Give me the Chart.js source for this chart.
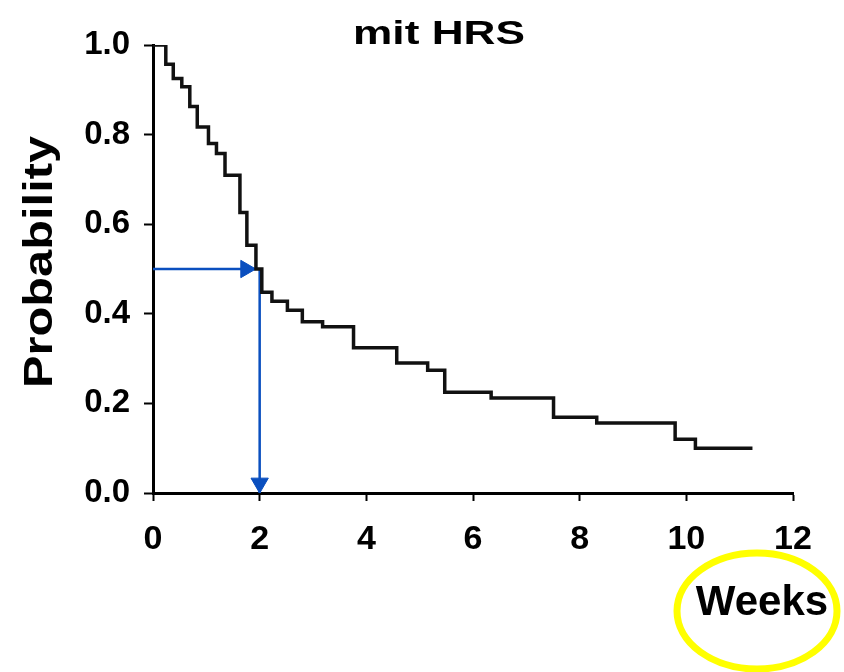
<!DOCTYPE html>
<html>
<head>
<meta charset="utf-8">
<script src="https://cdn.jsdelivr.net/npm/chart.js@4.4.1/dist/chart.umd.min.js"></script>
<style>
  html, body { margin: 0; padding: 0; background: #fff; }
  #wrap { width: 844px; height: 672px; }
</style>
</head>
<body>
<div id="wrap"><canvas id="km" width="844" height="672"></canvas></div>
<script>
// Kaplan-Meier steps (time of drop, probability after drop)
var weeks = [0, 0.24, 0.38, 0.54, 0.69, 0.83, 1.04, 1.19, 1.35, 1.63, 1.76, 1.93, 2.04, 2.23, 2.52, 2.80, 3.18, 3.76, 4.57, 5.15, 5.47, 6.34, 7.51, 8.32, 9.79, 10.17, 11.24];
var survival = [1.0, 0.957, 0.925, 0.907, 0.863, 0.817, 0.78, 0.758, 0.709, 0.626, 0.553, 0.5, 0.448, 0.428, 0.408, 0.382, 0.371, 0.324, 0.29, 0.274, 0.225, 0.212, 0.169, 0.156, 0.12, 0.10, 0.10];

// median arrows
var medianProb = 0.5;
var medianWeek = 2;
var hArrowX = [0, 1.74, 1.92];
var vArrowY = [0.5, 0.022, 0];

var xTicks = [0, 2, 4, 6, 8, 10, 12];
var yTicks = [0, 0.2, 0.4, 0.6, 0.8, 1.0];

var FONT = '"Liberation Sans", Arial, sans-serif';
var BLUE = '#0a4fbf';

var kmData = weeks.map(function (w, i) { return { x: w, y: survival[i] }; });
var hArrow = hArrowX.map(function (x) { return { x: x, y: medianProb }; });
var vArrow = vArrowY.map(function (y) { return { x: medianWeek, y: y }; });

function drawStretched(ctx, text, x, y, size, sx, rot) {
  ctx.save();
  ctx.translate(x, y);
  if (rot) ctx.rotate(rot);
  ctx.scale(sx, 1);
  ctx.font = 'bold ' + size + 'px ' + FONT;
  ctx.fillStyle = '#000';
  ctx.textAlign = 'center';
  ctx.textBaseline = 'alphabetic';
  ctx.fillText(text, 0, 0);
  ctx.restore();
}

var decor = {
  id: 'decor',
  afterDraw: function (chart) {
    var ctx = chart.ctx;
    drawStretched(ctx, 'mit HRS', 439, 44, 34, 1.3, 0);
    drawStretched(ctx, 'Probability', 52, 262, 40, 1.22, -Math.PI / 2);

    ctx.save();
    ctx.beginPath();
    ctx.ellipse(757, 611, 80, 58, 0, 0, Math.PI * 2);
    ctx.lineWidth = 7;
    ctx.strokeStyle = '#ffff00';
    ctx.stroke();
    ctx.restore();

    drawStretched(ctx, 'Weeks', 762, 615, 42, 1, 0);
  }
};

new Chart(document.getElementById('km'), {
  type: 'scatter',
  data: {
    datasets: [
      {
        data: kmData,
        showLine: true,
        stepped: 'before',
        borderColor: '#111',
        borderWidth: 3.5,
        pointRadius: 0,
        fill: false
      },
      {
        data: hArrow,
        showLine: true,
        borderColor: BLUE,
        borderWidth: 2.5,
        pointStyle: 'triangle',
        pointRotation: 90,
        pointRadius: [0, 10, 0],
        pointBackgroundColor: BLUE,
        pointBorderColor: BLUE,
        pointBorderWidth: 1
      },
      {
        data: vArrow,
        showLine: true,
        borderColor: BLUE,
        borderWidth: 2.5,
        pointStyle: 'triangle',
        pointRotation: 180,
        pointRadius: [0, 10, 0],
        pointBackgroundColor: BLUE,
        pointBorderColor: BLUE,
        pointBorderWidth: 1
      }
    ]
  },
  options: {
    responsive: false,
    animation: false,
    devicePixelRatio: 1,
    layout: { padding: { left: 0, top: 45, right: 51, bottom: 0 } },
    plugins: {
      legend: { display: false },
      tooltip: { enabled: false }
    },
    scales: {
      x: {
        type: 'linear',
        min: 0,
        max: 12,
        afterBuildTicks: function (s) { s.ticks = xTicks.map(function (v) { return { value: v }; }); },
        afterFit: function (s) { s.height = 179; },
        ticks: {
          color: '#000',
          padding: 18,
          maxRotation: 0,
          font: { family: FONT, size: 34, weight: 'bold' }
        },
        grid: { drawOnChartArea: false, tickLength: 8, tickColor: '#000', tickWidth: 2 },
        border: { color: '#000', width: 3 }
      },
      y: {
        min: 0,
        max: 1,
        afterBuildTicks: function (s) { s.ticks = yTicks.map(function (v) { return { value: v }; }); },
        afterFit: function (s) { s.width = 153; },
        ticks: {
          color: '#000',
          padding: 14,
          callback: function (v) { return Number(v).toFixed(1); },
          font: { family: FONT, size: 33, weight: 'bold' }
        },
        grid: { drawOnChartArea: false, tickLength: 9, tickColor: '#000', tickWidth: 2 },
        border: { color: '#000', width: 3 }
      }
    }
  },
  plugins: [decor]
});
</script>
</body>
</html>
